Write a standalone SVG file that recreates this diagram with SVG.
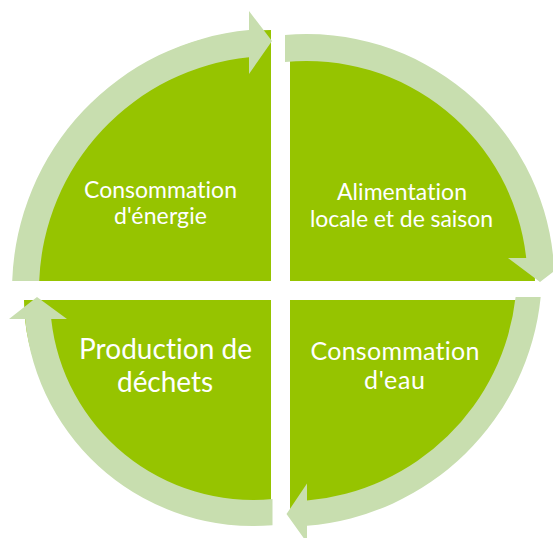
<svg xmlns="http://www.w3.org/2000/svg" width="553" height="538" viewBox="0 0 553 538">
<style>
.pie{fill:#96C400}
.arr{fill:#C8DEAF}
.t{fill:#FFFFFF;font-family:Lato,"Liberation Sans",sans-serif;text-anchor:middle;font-variant-ligatures:none;font-feature-settings:"liga" 0,"clig" 0}
</style>
<rect width="553" height="538" fill="#FFFFFF"/>
<g id="node-energie">
<path class="pie" d="M271 281 L20 281 A251 251 0 0 1 271 30 Z"/>
<text class="t" font-size="23" x="160.5" y="197.5" textLength="153">Consommation</text>
<text class="t" font-size="23" x="160.5" y="224" textLength="93">d'énergie</text>
</g>
<g id="node-alimentation">
<path class="pie" d="M290 281 L290 41 A245 240 0 0 1 535 281 Z"/>
<text class="t" font-size="23" x="402" y="200" textLength="130">Alimentation</text>
<text class="t" font-size="23" x="401.5" y="226.7" textLength="183">locale et de saison</text>
</g>
<g id="node-eau">
<path class="pie" d="M290 300 L518 300 A228 218 0 0 1 290 518 Z"/>
<text class="t" font-size="25" x="395" y="360" textLength="169">Consommation</text>
<text class="t" font-size="25" x="394.5" y="389.3" textLength="61">d'eau</text>
</g>
<g id="node-dechets">
<path class="pie" d="M271 300 L24 300 A247 215 0 0 0 271 515 Z"/>
<text class="t" font-size="28" x="165.5" y="359" textLength="173">Production de</text>
<text class="t" font-size="28" x="165" y="391.7" textLength="96">déchets</text>
</g>
<g id="connectors">
<path class="arr" d="M12.2 281 A261 261 0 0 1 249 30.1 L249 11 L272 41 L249 74 L249 57.2 A234 234 0 0 0 39.2 281 Z"/>
<path class="arr" d="M285 34.9 A248 248 0 0 1 553.3 258 L571.5 258 L540 282 L508 258 L526.2 258 A221 221 0 0 0 285 62 Z"/>
<path class="arr" d="M540.7 297 A255 255 0 0 1 307 525.7 L307 542.7 L286.5 514 L307 483.6 L307 500.6 A230 230 0 0 0 515.6 297 Z"/>
<path class="arr" d="M272.5 525.2 A229 229 0 0 1 25.1 319 L9 319 L37 297 L67 319 L51.2 319 A203 203 0 0 0 272.5 499.1 Z"/>
</g>
</svg>
